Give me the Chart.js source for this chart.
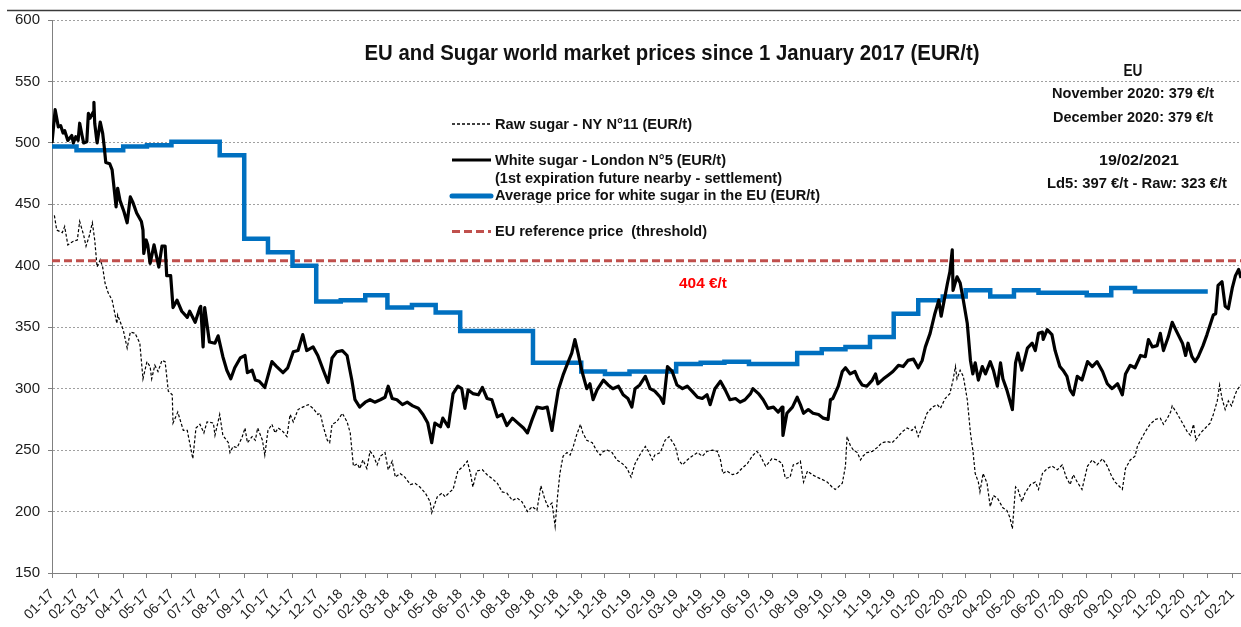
<!DOCTYPE html>
<html><head><meta charset="utf-8">
<script src="https://cdn.jsdelivr.net/npm/chart.js@4.4.1/dist/chart.umd.min.js"></script>
<style>html,body{margin:0;padding:0;background:#fff;}#wrap{width:1241px;height:627px;}</style>
</head><body><div id="wrap"><canvas id="c" width="1241" height="627"></canvas></div>
<script>
// ---------- DATA ----------
const monthLabels = ['01-17','02-17','03-17','04-17','05-17','06-17','07-17','08-17','09-17','10-17','11-17','12-17',
'01-18','02-18','03-18','04-18','05-18','06-18','07-18','08-18','09-18','10-18','11-18','12-18',
'01-19','02-19','03-19','04-19','05-19','06-19','07-19','08-19','09-19','10-19','11-19','12-19',
'01-20','02-20','03-20','04-20','05-20','06-20','07-20','08-20','09-20','10-20','11-20','12-20',
'01-21','02-21'];
const yMin = 150, yMax = 600, yStep = 50;
const refPrice = 404;
// EU average price for white sugar, monthly Jan 2017 .. Dec 2020
const euAvg = [496,497,494,494,497,498,501,501,490,422,411,400,
371,372,376,366,368,362,347,347,347,321,321,314,
312,314,314,320,321,322,320,320,329,332,334,342,
361,372,375,380,375,380,378,378,376,382,379,379];
// [days since 1 Jan 2017, EUR/t]
const whiteSugar = [[0,500],[4,527],[8,513],[11,514],[14,508],[16,510],[20,502],[25,506],[27,500],[30,505],[33,502],[35,516],[38,506],[40,500],[44,501],[46,524],[48,520],[52,525],[53,533],[54,516],[57,500],[61,517],[64,508],[66,497],[68,484],[73,483],[76,478],[81,448],[83,463],[86,453],[91,444],[95,435],[99,456],[102,452],[107,443],[113,436],[115,429],[116,410],[119,421],[121,417],[124,402],[129,417],[133,405],[135,399],[139,416],[143,416],[145,392],[150,392],[153,366],[158,372],[164,363],[171,358],[174,363],[181,354],[187,366],[188,367],[191,334],[193,366],[199,338],[206,337],[210,343],[216,326],[221,315],[226,308],[231,317],[238,325],[244,327],[247,313],[253,315],[257,307],[262,306],[269,301],[278,322],[284,318],[292,313],[298,317],[305,330],[311,331],[317,344],[322,331],[330,334],[336,327],[343,315],[349,305],[354,325],[360,330],[367,331],[373,327],[379,307],[383,291],[389,285],[396,289],[402,291],[408,289],[415,291],[421,293],[425,302],[430,292],[436,291],[443,287],[449,289],[456,286],[463,284],[469,279],[475,272],[480,256],[484,272],[491,269],[494,276],[501,269],[507,296],[513,302],[518,300],[522,284],[526,299],[532,296],[539,295],[544,301],[550,292],[556,291],[563,277],[569,279],[575,270],[582,276],[589,272],[596,268],[601,264],[607,275],[613,285],[620,284],[626,285],[632,266],[636,283],[640,299],[646,311],[652,321],[657,329],[661,340],[665,329],[670,314],[676,300],[680,304],[684,291],[689,299],[697,307],[703,303],[709,300],[716,302],[722,295],[728,292],[733,285],[737,300],[743,303],[750,310],[756,300],[762,298],[769,293],[773,288],[778,318],[784,314],[790,303],[797,300],[803,302],[809,298],[816,293],[822,292],[828,295],[832,287],[838,300],[845,306],[851,299],[857,291],[864,292],[870,289],[876,291],[883,296],[886,300],[893,296],[899,291],[905,284],[912,285],[918,281],[923,285],[924,262],[929,280],[936,285],[942,293],[946,287],[950,280],[956,283],[962,280],[969,279],[975,276],[981,275],[984,291],[987,292],[994,302],[999,314],[1003,317],[1009,312],[1015,314],[1019,308],[1024,303],[1030,302],[1037,307],[1041,312],[1044,304],[1051,308],[1057,311],[1063,314],[1070,319],[1076,318],[1082,323],[1089,324],[1095,317],[1100,323],[1104,334],[1110,345],[1116,361],[1121,372],[1124,359],[1132,386],[1135,395],[1138,413],[1139,380],[1144,391],[1148,386],[1152,372],[1157,353],[1161,323],[1164,312],[1167,321],[1171,307],[1176,318],[1180,312],[1186,322],[1190,315],[1195,302],[1199,321],[1202,308],[1207,299],[1214,283],[1218,321],[1221,329],[1226,315],[1233,333],[1239,337],[1243,331],[1247,345],[1252,346],[1253,340],[1258,348],[1264,344],[1268,331],[1274,318],[1278,315],[1283,310],[1287,299],[1291,295],[1296,310],[1302,307],[1309,322],[1315,318],[1321,322],[1328,314],[1334,304],[1340,300],[1347,304],[1353,295],[1357,312],[1363,319],[1369,317],[1376,327],[1382,326],[1386,340],[1391,334],[1397,335],[1401,345],[1405,331],[1411,342],[1416,354],[1422,346],[1429,337],[1433,327],[1436,337],[1441,326],[1445,322],[1449,326],[1455,335],[1460,344],[1464,352],[1468,360],[1471,361],[1474,384],[1479,387],[1483,367],[1487,365],[1492,382],[1496,392],[1500,397],[1503,390]];
const rawSugar = [[3,441],[6,429],[13,427],[16,432],[20,417],[27,420],[32,421],[35,436],[40,425],[43,416],[47,424],[51,435],[54,421],[57,399],[61,405],[64,399],[67,386],[71,378],[76,372],[82,353],[83,360],[90,348],[95,333],[99,346],[105,345],[111,337],[115,308],[120,322],[124,318],[126,308],[130,319],[134,314],[139,323],[143,322],[147,298],[152,295],[153,272],[159,281],[166,266],[171,266],[174,256],[178,243],[182,268],[187,271],[192,264],[196,273],[204,272],[206,262],[212,279],[216,262],[223,256],[225,248],[229,253],[234,252],[240,260],[244,268],[247,256],[253,261],[257,258],[260,268],[266,258],[269,246],[273,266],[278,271],[282,264],[286,268],[292,265],[297,261],[301,279],[305,273],[311,283],[317,285],[324,287],[330,284],[336,279],[339,280],[343,269],[348,258],[351,256],[354,271],[360,273],[367,280],[373,273],[377,264],[381,237],[386,239],[389,235],[393,242],[398,235],[402,249],[406,246],[411,238],[415,245],[421,248],[425,234],[430,241],[434,228],[440,231],[446,228],[453,222],[459,223],[465,220],[472,215],[478,208],[480,199],[487,212],[493,215],[497,212],[503,216],[507,218],[513,233],[520,237],[525,241],[529,231],[532,220],[537,233],[544,234],[550,230],[556,227],[563,223],[569,216],[575,215],[582,209],[588,211],[594,208],[601,200],[607,204],[613,201],[618,221],[623,210],[627,204],[632,207],[636,188],[639,212],[642,231],[646,245],[651,248],[655,246],[659,253],[663,262],[668,271],[671,264],[676,258],[683,256],[689,249],[693,246],[697,249],[702,250],[708,248],[714,242],[721,239],[727,235],[732,228],[737,239],[743,246],[750,253],[754,249],[759,242],[762,246],[769,248],[775,258],[780,261],[788,253],[792,242],[797,238],[803,242],[809,245],[816,248],[822,245],[828,249],[835,250],[841,249],[845,242],[848,231],[853,233],[860,230],[866,231],[872,235],[879,239],[885,245],[891,249],[895,246],[902,237],[905,239],[910,243],[917,242],[923,239],[927,227],[933,228],[937,238],[942,239],[946,241],[950,224],[955,233],[961,230],[967,228],[974,226],[980,224],[986,220],[990,218],[994,220],[999,223],[1003,237],[1005,261],[1009,254],[1013,250],[1018,248],[1022,242],[1025,245],[1030,248],[1037,249],[1043,252],[1049,256],[1056,257],[1062,256],[1068,260],[1075,265],[1081,268],[1087,266],[1091,269],[1095,261],[1100,269],[1106,280],[1113,285],[1119,287],[1123,284],[1129,292],[1135,296],[1139,307],[1142,318],[1144,308],[1148,315],[1152,310],[1157,291],[1161,264],[1164,250],[1167,231],[1171,224],[1173,216],[1177,231],[1182,223],[1186,204],[1190,213],[1195,211],[1202,203],[1207,201],[1211,195],[1214,186],[1218,220],[1221,218],[1226,208],[1230,215],[1237,222],[1243,224],[1247,218],[1252,231],[1258,235],[1264,237],[1271,234],[1277,238],[1282,228],[1287,222],[1291,230],[1296,224],[1302,218],[1309,237],[1315,242],[1321,238],[1328,243],[1334,237],[1340,228],[1344,224],[1350,220],[1353,218],[1357,235],[1363,242],[1369,245],[1372,253],[1376,258],[1382,265],[1388,271],[1395,275],[1401,276],[1405,271],[1410,276],[1414,281],[1416,286],[1422,280],[1429,272],[1435,265],[1439,262],[1443,271],[1446,258],[1452,264],[1458,268],[1464,272],[1468,279],[1473,290],[1476,303],[1479,292],[1483,283],[1487,290],[1491,286],[1495,294],[1498,299],[1503,303]];
const titleText = 'EU and Sugar world market prices since 1 January 2017 (EUR/t)';
const legendTexts = ['Raw sugar - NY N°11 (EUR/t)','White sugar - London N°5 (EUR/t)','(1st expiration future nearby - settlement)','Average price for white sugar in the EU (EUR/t)','EU reference price  (threshold)'];
const noteTexts = ['EU','November 2020: 379 €/t','December 2020: 379 €/t','19/02/2021','Ld5: 397 €/t - Raw: 323 €/t'];
const xMaxDay = 1503;

// ---------- helpers ----------
const DAY0 = Date.UTC(2017,0,1);
function labelDay(l){const p=l.split('-').map(Number);return Math.round((Date.UTC(2000+p[1],p[0]-1,1)-DAY0)/864e5);}
const tickDays = monthLabels.map(labelDay);
const toXY = arr => arr.map(p => ({x:p[0], y:p[1]}));
const euPoints = euAvg.map((v,i)=>({x:tickDays[i], y:v}));
euPoints.push({x:tickDays[euAvg.length], y:euAvg[euAvg.length-1]});
const FONT = '"Liberation Sans", Arial, Helvetica, sans-serif';

function fitText(ctx, txt, x, y, font, color, width, align){
  ctx.save();
  ctx.font = font; ctx.fillStyle = color; ctx.textAlign='left'; ctx.textBaseline='alphabetic';
  const w = ctx.measureText(txt).width;
  const sx = width / w;
  const x0 = align === 'center' ? x - width/2 : x;
  ctx.translate(x0, y); ctx.scale(sx, 1); ctx.fillText(txt, 0, 0);
  ctx.restore();
}
function sample(ctx, y, color, w, dash, cap){
  ctx.save(); ctx.strokeStyle=color; ctx.lineWidth=w; ctx.setLineDash(dash); ctx.lineCap=cap||'butt';
  ctx.beginPath(); ctx.moveTo(452,y); ctx.lineTo(491,y); ctx.stroke(); ctx.restore();
}

const overlay = {
  id:'overlay',
  afterDraw(chart){
    const ctx = chart.ctx;
    ctx.save(); ctx.strokeStyle='#3a3a3a'; ctx.lineWidth=1.5;
    ctx.beginPath(); ctx.moveTo(7,10.5); ctx.lineTo(1241,10.5); ctx.stroke(); ctx.restore();
    fitText(ctx, titleText, 672, 60, 'bold 22px '+FONT, '#111', 615, 'center');
    // legend
    sample(ctx, 124, '#000', 1.3, [3,2]);
    sample(ctx, 160, '#000', 3, []);
    sample(ctx, 196, '#0070c0', 5, [], 'round');
    sample(ctx, 231.5, '#c0504d', 3, [8,4]);
    const lf = 'bold 15px '+FONT, lc = '#111';
    fitText(ctx, legendTexts[0], 495, 129, lf, lc, 197);
    fitText(ctx, legendTexts[1], 495, 165, lf, lc, 231);
    fitText(ctx, legendTexts[2], 495, 183, lf, lc, 287);
    fitText(ctx, legendTexts[3], 495, 200, lf, lc, 325);
    fitText(ctx, legendTexts[4], 495, 236, lf, lc, 212);
    // notes on the right
    const nf = 'bold 15px '+FONT;
    fitText(ctx, noteTexts[0], 1133, 76, 'bold 16px '+FONT, lc, 19, 'center');
    fitText(ctx, noteTexts[1], 1052, 98, nf, lc, 162);
    fitText(ctx, noteTexts[2], 1053, 121.5, nf, lc, 160);
    fitText(ctx, noteTexts[3], 1139, 165, nf, lc, 80, 'center');
    fitText(ctx, noteTexts[4], 1047, 188, nf, lc, 180);
    fitText(ctx, refPrice + ' €/t', 679, 288, 'bold 15px '+FONT, '#ff0000', 48);
  }
};

new Chart(document.getElementById('c'), {
  type:'line',
  data:{ datasets:[
    {label:'White sugar', data:toXY(whiteSugar), borderColor:'#000', borderWidth:3.2, order:0, borderJoinStyle:'round'},
    {label:'EU average', data:euPoints, borderColor:'#0070c0', borderWidth:4.5, stepped:'after', order:1},
    {label:'Reference', data:[{x:0,y:refPrice},{x:xMaxDay,y:refPrice}], borderColor:'#c0504d', borderWidth:3, borderDash:[8,4], order:2},
    {label:'Raw sugar', data:toXY(rawSugar), borderColor:'#000', borderWidth:1.2, borderDash:[3,2], order:3}
  ]},
  options:{
    responsive:false, animation:false, devicePixelRatio:1,
    layout:{padding:{top:20,left:0,right:0,bottom:0}},
    plugins:{legend:{display:false}, tooltip:{enabled:false}, title:{display:false}},
    elements:{point:{radius:0,hoverRadius:0}, line:{tension:0, fill:false}},
    scales:{
      x:{type:'linear', min:0, max:xMaxDay,
        afterBuildTicks:s=>{ s.ticks = tickDays.map(v=>({value:v})); },
        afterFit:s=>{ s.height = 54; s.paddingLeft = 0; s.paddingRight = 0; },
        ticks:{autoSkip:false, maxRotation:45, minRotation:45, padding:8, color:'#1a1a1a', font:{family:FONT, size:14},
          callback:(v,i)=>monthLabels[i]},
        grid:{drawOnChartArea:false, drawTicks:true, tickLength:5, color:'#808080', tickColor:'#808080'},
        border:{display:true, color:'#808080', width:1}
      },
      y:{min:yMin, max:yMax,
        afterFit:s=>{ s.width = 52; },
        ticks:{stepSize:yStep, padding:8, color:'#1a1a1a', font:{family:FONT, size:15}},
        grid:{color:'#a0a0a0', lineWidth:1, drawTicks:true, tickLength:4, tickColor:'#808080', tickBorderDash:[]},
        border:{display:true, color:'#808080', width:1, dash:[2,2]}
      }
    }
  },
  plugins:[overlay]
});
</script></body></html>
